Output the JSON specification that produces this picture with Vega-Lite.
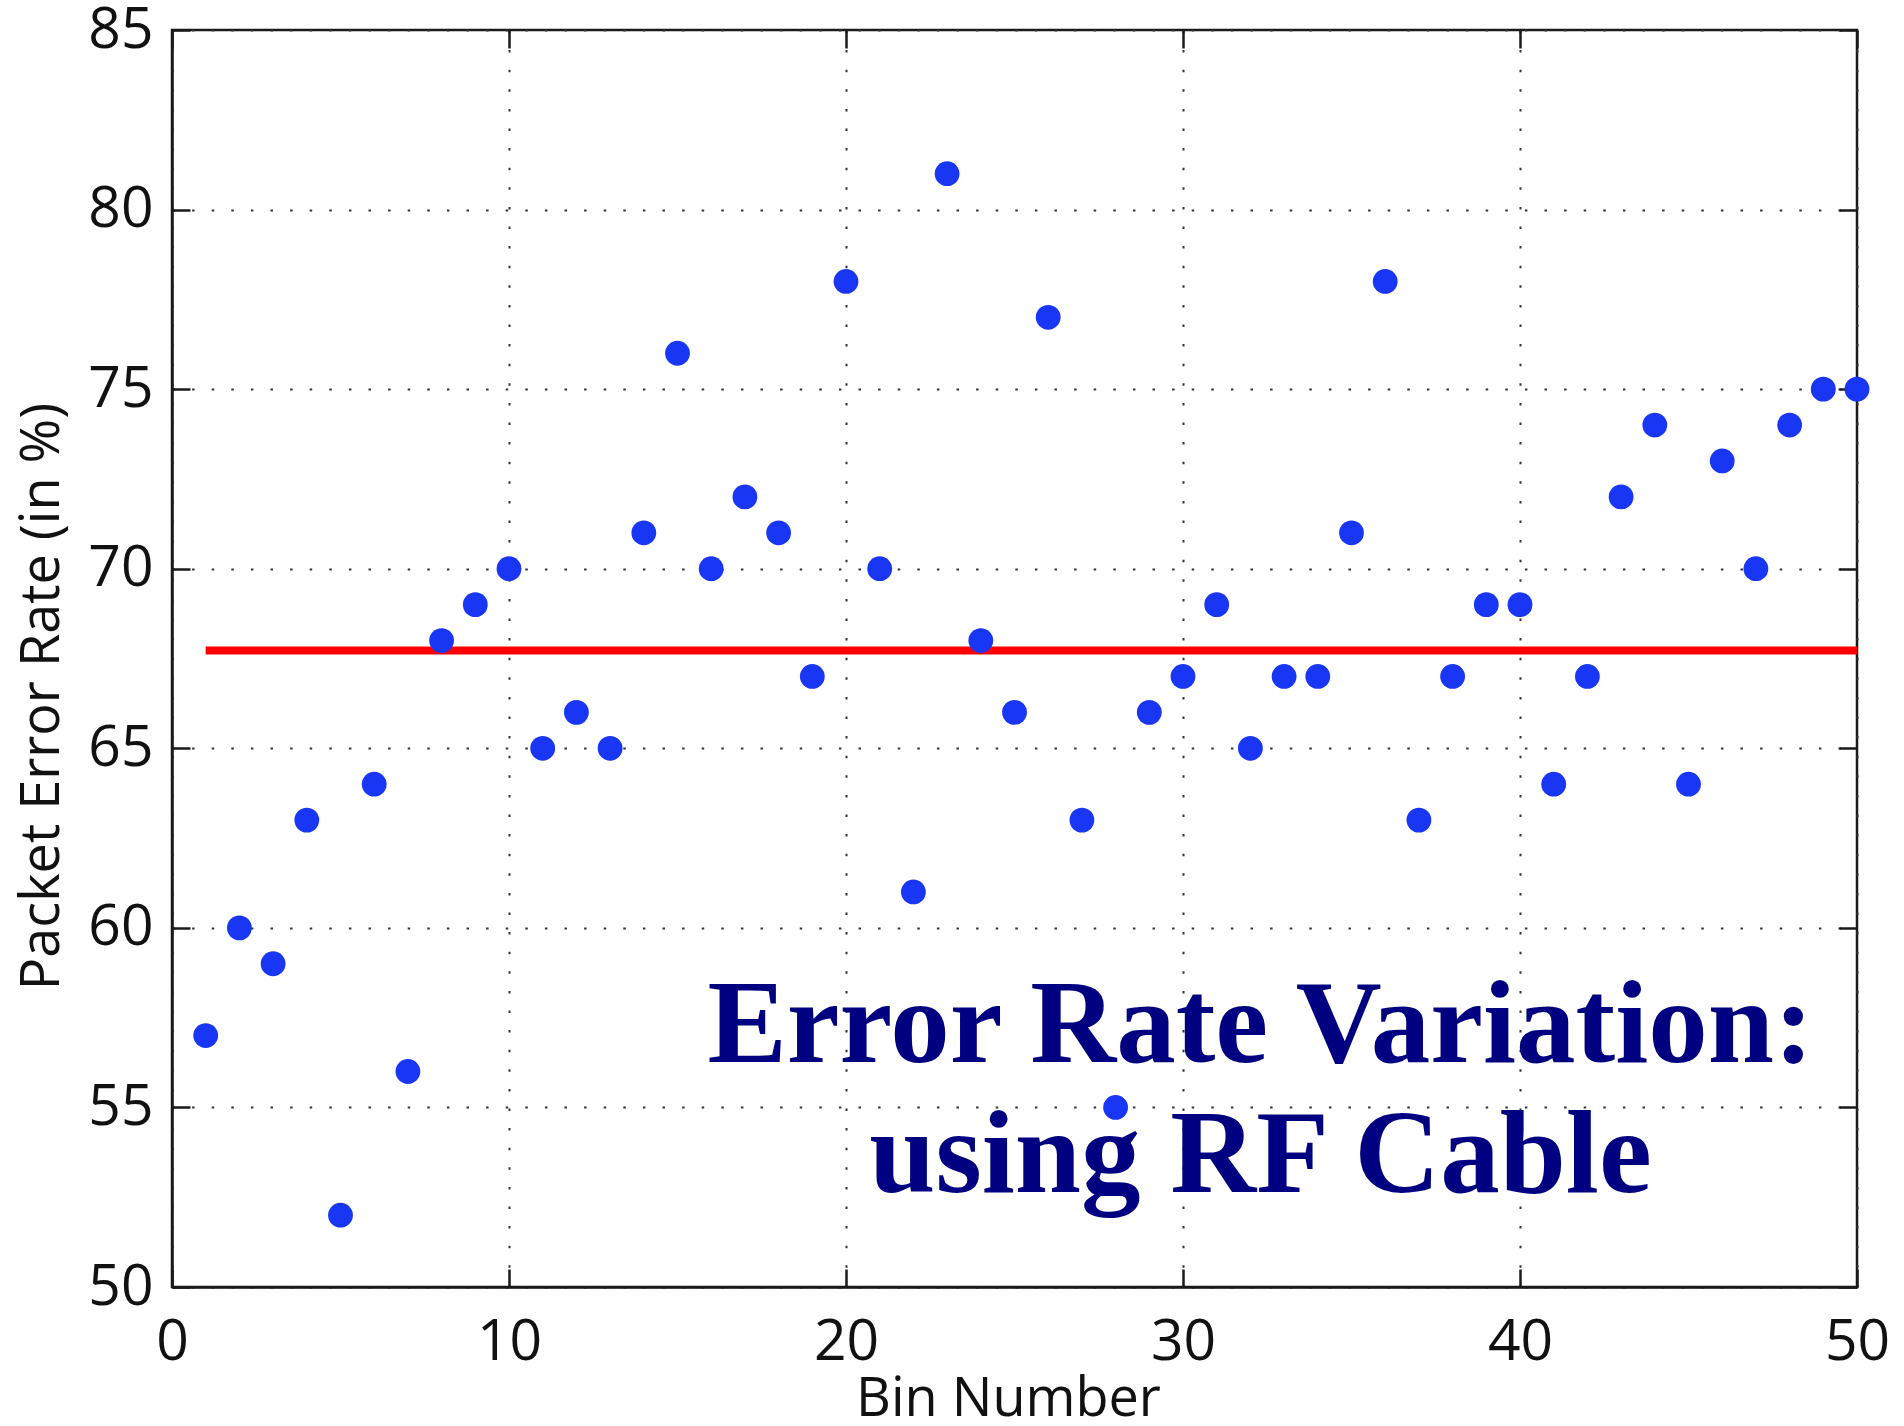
{
  "$schema": "https://vega.github.io/schema/vega-lite/v6.json",
  "width": 1685,
  "height": 1257,
  "autosize": {"type": "none"},
  "padding": {"left": 172, "top": 30, "right": 47, "bottom": 139},
  "background": "white",
  "config": {
    "view": {"stroke": "#1a1a1a", "strokeWidth": 2.5},
    "axis": {
      "labelFont": "Open Sans",
      "labelFontSize": 57,
      "labelColor": "#111",
      "titleFont": "Open Sans",
      "titleFontSize": 54,
      "titleFontWeight": "normal",
      "titleColor": "#111",
      "domainColor": "#1a1a1a",
      "domainWidth": 2.5,
      "tickColor": "#1a1a1a",
      "tickWidth": 2.5,
      "tickSize": -18,
      "gridColor": "#333",
      "gridWidth": 2,
      "gridDash": [2.5, 17.1]
    }
  },
  "datasets": {
    "pts": [
      {"bin": 1, "rate": 57}, {"bin": 2, "rate": 60}, {"bin": 3, "rate": 59}, {"bin": 4, "rate": 63}, {"bin": 5, "rate": 52},
      {"bin": 6, "rate": 64}, {"bin": 7, "rate": 56}, {"bin": 8, "rate": 68}, {"bin": 9, "rate": 69}, {"bin": 10, "rate": 70},
      {"bin": 11, "rate": 65}, {"bin": 12, "rate": 66}, {"bin": 13, "rate": 65}, {"bin": 14, "rate": 71}, {"bin": 15, "rate": 76},
      {"bin": 16, "rate": 70}, {"bin": 17, "rate": 72}, {"bin": 18, "rate": 71}, {"bin": 19, "rate": 67}, {"bin": 20, "rate": 78},
      {"bin": 21, "rate": 70}, {"bin": 22, "rate": 61}, {"bin": 23, "rate": 81}, {"bin": 24, "rate": 68}, {"bin": 25, "rate": 66},
      {"bin": 26, "rate": 77}, {"bin": 27, "rate": 63}, {"bin": 28, "rate": 55}, {"bin": 29, "rate": 66}, {"bin": 30, "rate": 67},
      {"bin": 31, "rate": 69}, {"bin": 32, "rate": 65}, {"bin": 33, "rate": 67}, {"bin": 34, "rate": 67}, {"bin": 35, "rate": 71},
      {"bin": 36, "rate": 78}, {"bin": 37, "rate": 63}, {"bin": 38, "rate": 67}, {"bin": 39, "rate": 69}, {"bin": 40, "rate": 69},
      {"bin": 41, "rate": 64}, {"bin": 42, "rate": 67}, {"bin": 43, "rate": 72}, {"bin": 44, "rate": 74}, {"bin": 45, "rate": 64},
      {"bin": 46, "rate": 73}, {"bin": 47, "rate": 70}, {"bin": 48, "rate": 74}, {"bin": 49, "rate": 75}, {"bin": 50, "rate": 75}
    ],
    "meanline": [{"start": 1, "end": 50, "mean": 67.72}],
    "label": [
      {"bin": 32.3, "rate": 56.26, "text": "Error Rate Variation:"},
      {"bin": 32.3, "rate": 52.64, "text": "using RF Cable"}
    ]
  },
  "resolve": {"axis": {"x": "independent", "y": "independent"}},
  "layer": [
    {
      "data": {"name": "pts"},
      "mark": {"type": "point", "opacity": 0},
      "encoding": {
        "x": {"field": "bin", "type": "quantitative", "scale": {"domain": [0, 50], "nice": false, "zero": false},
              "axis": {"orient": "top", "labels": false, "title": null, "grid": false, "domain": false, "values": [0, 10, 20, 30, 40, 50]}},
        "y": {"field": "rate", "type": "quantitative", "scale": {"domain": [50, 85], "nice": false, "zero": false},
              "axis": {"orient": "right", "labels": false, "title": null, "grid": false, "domain": false, "values": [50, 55, 60, 65, 70, 75, 80, 85]}}
      }
    },
    {
      "data": {"name": "pts"},
      "mark": {"type": "point", "opacity": 0},
      "encoding": {
        "x": {"field": "bin", "type": "quantitative", "scale": {"domain": [0, 50], "nice": false, "zero": false},
              "axis": {"orient": "bottom", "title": "Bin Number", "values": [0, 10, 20, 30, 40, 50], "labelPadding": 45, "titlePadding": 2, "titleX": 836, "labelFlush": false, "grid": true}},
        "y": {"field": "rate", "type": "quantitative", "scale": {"domain": [50, 85], "nice": false, "zero": false},
              "axis": {"orient": "left", "title": "Packet Error Rate (in %)", "values": [50, 55, 60, 65, 70, 75, 80, 85], "labelPadding": 37, "titlePadding": 18, "titleY": 666, "labelFlush": false, "grid": true}}
      }
    },
    {
      "data": {"name": "meanline"},
      "mark": {"type": "rule", "color": "#ff0000", "strokeWidth": 8},
      "encoding": {
        "x": {"field": "start", "type": "quantitative", "axis": null},
        "x2": {"field": "end"},
        "y": {"field": "mean", "type": "quantitative", "axis": null}
      }
    },
    {
      "data": {"name": "pts"},
      "mark": {"type": "circle", "color": "#1a36f5", "size": 615, "opacity": 1},
      "encoding": {
        "x": {"field": "bin", "type": "quantitative", "axis": null},
        "y": {"field": "rate", "type": "quantitative", "axis": null}
      }
    },
    {
      "data": {"name": "label"},
      "mark": {"type": "text", "font": "Liberation Serif", "fontWeight": "bold", "fontSize": 119, "color": "#000080", "align": "center", "baseline": "alphabetic"},
      "encoding": {
        "x": {"field": "bin", "type": "quantitative", "axis": null},
        "y": {"field": "rate", "type": "quantitative", "axis": null},
        "text": {"field": "text"}
      }
    }
  ]
}
